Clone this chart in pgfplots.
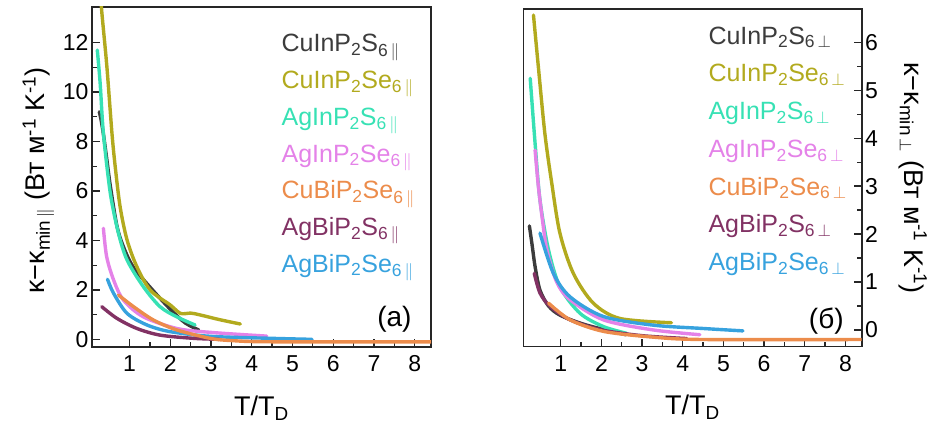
\documentclass[border=0pt]{standalone}
\usepackage{fontspec}
\setmainfont{Liberation Sans}
\usepackage{pgfplots}
\pgfplotsset{compat=1.18}
\definecolor{cdark}{RGB}{60,60,60}
\definecolor{colive}{RGB}{178,170,30}
\definecolor{ccyan}{RGB}{55,225,180}
\definecolor{cviolet}{RGB}{228,130,232}
\definecolor{corange}{RGB}{236,140,75}
\definecolor{cpurple}{RGB}{130,50,100}
\definecolor{cblue}{RGB}{55,162,222}
\newcommand{\tl}{\fontsize{23bp}{26bp}\selectfont}
\newcommand{\lf}{\fontsize{25bp}{28bp}\selectfont}
\pgfplotsset{
  base/.style={
    scale only axis,
    anchor=south west,
    xmin=0.08, xmax=8.4,
    xtick={1,...,8},
    minor x tick num=1,
    tick align=inside,
    xtick pos=bottom,
    axis line style={line width=1.6bp, black!85},
    major tick length=8bp, minor tick length=5bp,
    every tick/.style={line width=1.3bp, black!85},
    tick label style={font=\tl},
    xticklabel style={yshift=-5bp},
    /pgf/number format/assume math mode=true,
    xlabel={T/T\textsubscript{D}},
    xlabel style={font=\fontsize{27bp}{30bp}\selectfont, at={(rel axis cs:0.5,-0.18)}, anchor=center},
    ylabel style={font=\fontsize{27bp}{30bp}\selectfont, anchor=center},
    every axis plot/.append style={line width=3.4bp, smooth, no markers, line cap=round},
    clip=true,
  }
}
\begin{document}
\begin{tikzpicture}
\path[use as bounding box] (0,0) rectangle (934bp,432bp);
% ---------------- panel (a)
\begin{axis}[base,
  at={(92bp,85bp)}, width=339bp, height=340bp,
  ymin=-0.31, ymax=13.44,
  ytick={0,2,...,12}, minor y tick num=1,
  ytick pos=left,
  ylabel={κ−κ\textsubscript{min\,$\|$} (Вт м\textsuperscript{-1} K\textsuperscript{-1})},
  ylabel style={at={(rel axis cs:-0.158,0.49)}},
]
\addplot[cdark] coordinates {(0.26,9.2)(0.30,8.9)(0.36,8.3)(0.45,7.2)(0.53,6.2)(0.69,4.6)(0.85,3.75)(1.09,2.93)(1.51,2.1)(2.0,1.22)(2.37,0.66)(2.7,0.38)};
\addplot[colive] coordinates {(0.30,13.9)(0.32,13.25)(0.445,11.03)(0.57,8.33)(0.65,6.98)(0.77,5.36)(0.94,4.02)(1.18,2.94)(1.51,1.99)(2.0,1.39)(2.25,1.05)(2.5,1.06)(2.7,1.0)(3.2,0.8)(3.72,0.62)};
\addplot[ccyan] coordinates {(0.21,11.7)(0.28,10.36)(0.36,8.33)(0.53,5.9)(0.73,4.29)(0.94,3.21)(1.34,2.13)(1.75,1.32)(2.16,0.91)(2.61,0.58)};
\addplot[cviolet] coordinates {(0.36,4.49)(0.44,3.34)(0.61,2.4)(0.85,1.59)(1.34,0.91)(2.16,0.44)(3.0,0.28)(4.37,0.13)};
\addplot[cblue] coordinates {(0.46,2.43)(0.61,1.86)(0.94,1.05)(1.43,0.58)(2.0,0.31)(3.0,0.12)(4.5,0.04)(5.48,0.0)};
\addplot[cpurple] coordinates {(0.32,1.32)(0.69,0.85)(1.18,0.44)(1.75,0.17)(2.57,0.04)(3.2,0.0)};
\addplot[corange] coordinates {(0.73,1.79)(1.1,1.32)(1.59,0.78)(2.16,0.38)(2.98,0.04)(3.5,-0.05)(4.5,-0.1)(8.5,-0.1)};
\begin{scope}[font=\lf]
\node[anchor=base west, text=cdark]   at (rel axis cs:0.549,0.868) {CuInP\textsubscript{2}S\textsubscript{6\,$\|$}};
\node[anchor=base west, text=colive]  at (rel axis cs:0.549,0.760) {CuInP\textsubscript{2}Se\textsubscript{6\,$\|$}};
\node[anchor=base west, text=ccyan]   at (rel axis cs:0.549,0.652) {AgInP\textsubscript{2}S\textsubscript{6\,$\|$}};
\node[anchor=base west, text=cviolet] at (rel axis cs:0.549,0.544) {AgInP\textsubscript{2}Se\textsubscript{6\,$\|$}};
\node[anchor=base west, text=corange] at (rel axis cs:0.549,0.436) {CuBiP\textsubscript{2}Se\textsubscript{6\,$\|$}};
\node[anchor=base west, text=cpurple] at (rel axis cs:0.549,0.328) {AgBiP\textsubscript{2}S\textsubscript{6\,$\|$}};
\node[anchor=base west, text=cblue]   at (rel axis cs:0.549,0.220) {AgBiP\textsubscript{2}Se\textsubscript{6\,$\|$}};
\node[anchor=base east, font=\fontsize{28bp}{32bp}\selectfont] at (rel axis cs:0.953,0.06) {(a)};
\end{scope}
\end{axis}
% ---------------- panel (б)
\begin{axis}[base,
  at={(523.3bp,85.3bp)}, width=338.4bp, height=337.4bp,
  ymin=-0.35, ymax=6.69,
  ytick={0,1,...,6}, minor y tick num=1,
  ytick pos=right, yticklabel pos=right,
  ylabel={κ−κ\textsubscript{min\,$\perp$} (Вт м\textsuperscript{-1} K\textsuperscript{-1})},
  ylabel style={at={(rel axis cs:1.152,0.5)}, rotate=180},
]
\addplot[cdark] coordinates {(0.23,2.17)(0.30,1.75)(0.37,1.32)(0.49,0.83)(0.7,0.5)(1.0,0.3)(1.64,0.1)(2.6,-0.1)};
\addplot[colive] coordinates {(0.33,6.57)(0.45,5.49)(0.61,4.1)(0.78,3.06)(0.98,2.02)(1.31,1.18)(1.8,0.56)(2.45,0.24)(3.72,0.15)};
\addplot[ccyan] coordinates {(0.25,5.25)(0.37,3.89)(0.49,2.71)(0.7,1.67)(0.98,0.9)(1.47,0.35)(2.05,0.07)(2.62,-0.07)};
\addplot[cviolet] coordinates {(0.37,3.75)(0.45,3.0)(0.55,2.3)(0.66,1.67)(0.9,1.0)(1.23,0.63)(2.05,0.21)(3.27,0.0)(4.42,-0.1)};
\addplot[cblue] coordinates {(0.49,2.02)(0.82,1.18)(1.23,0.69)(2.05,0.28)(3.27,0.1)(4.5,0.03)(5.48,-0.02)};
\addplot[cpurple] coordinates {(0.35,1.18)(0.49,0.77)(0.74,0.49)(1.23,0.21)(2.0,0.0)(3.0,-0.12)(4.1,-0.18)};
\addplot[corange] coordinates {(0.7,0.56)(1.23,0.21)(2.05,-0.03)(3.27,-0.15)(4.5,-0.2)(8.5,-0.2)};
\begin{scope}[font=\lf]
\node[anchor=base west, text=cdark]   at (rel axis cs:0.537,0.897) {CuInP\textsubscript{2}S\textsubscript{6\,$\perp$}};
\node[anchor=base west, text=colive]  at (rel axis cs:0.537,0.785) {CuInP\textsubscript{2}Se\textsubscript{6\,$\perp$}};
\node[anchor=base west, text=ccyan]   at (rel axis cs:0.537,0.673) {AgInP\textsubscript{2}S\textsubscript{6\,$\perp$}};
\node[anchor=base west, text=cviolet] at (rel axis cs:0.537,0.561) {AgInP\textsubscript{2}Se\textsubscript{6\,$\perp$}};
\node[anchor=base west, text=corange] at (rel axis cs:0.537,0.449) {CuBiP\textsubscript{2}Se\textsubscript{6\,$\perp$}};
\node[anchor=base west, text=cpurple] at (rel axis cs:0.537,0.337) {AgBiP\textsubscript{2}S\textsubscript{6\,$\perp$}};
\node[anchor=base west, text=cblue]   at (rel axis cs:0.537,0.225) {AgBiP\textsubscript{2}Se\textsubscript{6\,$\perp$}};
\node[anchor=base east, font=\fontsize{28bp}{32bp}\selectfont] at (rel axis cs:0.957,0.055) {(б)};
\end{scope}
\end{axis}
\end{tikzpicture}
\end{document}
